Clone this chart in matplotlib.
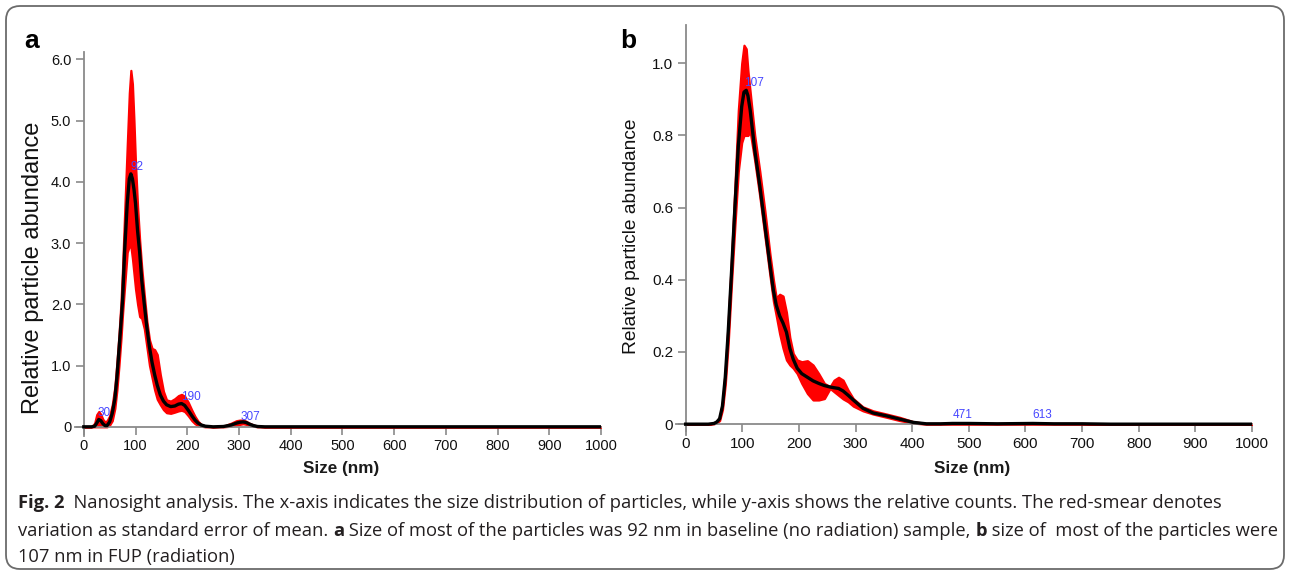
import matplotlib
matplotlib.use('Agg')
import matplotlib.pyplot as plt
from matplotlib import font_manager
from matplotlib.patches import FancyBboxPatch
from matplotlib.transforms import IdentityTransform

# ---------------- data ----------------
# Panel a: baseline (no radiation)
size_a = [0, 15, 21, 25, 29, 33, 37, 41, 45, 50, 55, 60, 64, 68, 72, 75, 79, 84, 88, 91,
          94, 97, 100, 104, 108, 112, 117, 122, 127, 132, 137, 142, 148, 154, 160, 168,
          176, 183, 189, 195, 202, 209, 215, 221, 227, 235, 250, 270, 285, 295, 302, 308,
          314, 320, 328, 336, 350, 1000]
mean_a = [0, 0, 0.01, 0.06, 0.12, 0.10, 0.05, 0.02, 0.02, 0.08, 0.22, 0.45, 0.80, 1.25,
          1.70, 2.07, 2.88, 3.65, 4.05, 4.13, 4.05, 3.88, 3.65, 3.20, 2.85, 2.40, 2.00,
          1.62, 1.30, 1.05, 0.85, 0.68, 0.52, 0.42, 0.36, 0.33, 0.34, 0.37, 0.38, 0.35,
          0.27, 0.18, 0.11, 0.06, 0.03, 0.01, 0, 0.005, 0.03, 0.06, 0.075, 0.08, 0.07,
          0.045, 0.02, 0.005, 0, 0]
upper_a = [0, 0, 0.06, 0.20, 0.25, 0.20, 0.12, 0.08, 0.10, 0.18, 0.36, 0.65, 1.05, 1.50,
           2.05, 2.60, 3.50, 4.60, 5.45, 5.82, 5.60, 5.00, 4.30, 3.60, 3.05, 2.60, 2.15,
           1.72, 1.42, 1.28, 1.26, 1.18, 0.85, 0.58, 0.44, 0.42, 0.46, 0.51, 0.53, 0.50,
           0.40, 0.27, 0.17, 0.09, 0.04, 0.015, 0, 0.01, 0.06, 0.10, 0.11, 0.11, 0.09,
           0.06, 0.03, 0.01, 0, 0]
lower_a = [0, 0, 0, 0, 0, 0, 0, 0, 0, 0.03, 0.10, 0.30, 0.60, 1.00, 1.45, 1.85, 2.30,
           2.85, 2.95, 2.95, 2.75, 2.50, 2.25, 2.00, 1.80, 1.77, 1.60, 1.30, 1.00, 0.80,
           0.60, 0.45, 0.36, 0.28, 0.23, 0.22, 0.24, 0.26, 0.27, 0.25, 0.18, 0.10, 0.05,
           0.02, 0.01, 0, 0, 0, 0.01, 0.03, 0.04, 0.05, 0.04, 0.03, 0.01, 0, 0, 0]
peaks_a = ['30', '92', '190', '307']
peak_x_a = [39, 102, 207, 323]
peak_y_a = [0.22, 4.25, 0.49, 0.16]

# Panel b: FUP (radiation)
size_b = [0, 40, 50, 55, 60, 65, 70, 75, 81, 87, 93, 99, 103, 107, 110, 114, 122, 131,
          140, 149, 155, 160, 166, 172, 178, 184, 190, 197, 205, 215, 225, 235, 245, 255,
          262, 270, 278, 287, 296, 313, 331, 355, 378, 402, 425, 450, 471, 500, 550, 613,
          650, 700, 750, 1000]
mean_b = [0, 0, 0.002, 0.006, 0.015, 0.05, 0.13, 0.25, 0.42, 0.60, 0.77, 0.88, 0.92,
          0.925, 0.91, 0.87, 0.76, 0.66, 0.55, 0.44, 0.37, 0.33, 0.30, 0.28, 0.255, 0.21,
          0.18, 0.155, 0.14, 0.13, 0.12, 0.113, 0.107, 0.103, 0.101, 0.099, 0.092, 0.08,
          0.067, 0.044, 0.031, 0.023, 0.014, 0.005, 0.001, 0.001, 0.002, 0.002, 0.001,
          0.002, 0.001, 0.001, 0, 0]
upper_b = [0, 0, 0.003, 0.008, 0.02, 0.06, 0.15, 0.28, 0.46, 0.66, 0.87, 1.00, 1.05,
           1.04, 0.98, 0.92, 0.80, 0.70, 0.59, 0.47, 0.40, 0.35, 0.36, 0.355, 0.31, 0.24,
           0.196, 0.178, 0.173, 0.176, 0.164, 0.14, 0.113, 0.104, 0.122, 0.13, 0.122,
           0.094, 0.071, 0.048, 0.037, 0.028, 0.019, 0.007, 0.002, 0.002, 0.003, 0.003,
           0.002, 0.003, 0.002, 0.002, 0, 0]
lower_b = [0, 0, 0.001, 0.004, 0.01, 0.04, 0.11, 0.22, 0.39, 0.55, 0.70, 0.78, 0.80,
           0.80, 0.80, 0.81, 0.73, 0.63, 0.52, 0.41, 0.34, 0.30, 0.25, 0.21, 0.178, 0.164,
           0.155, 0.14, 0.113, 0.085, 0.067, 0.067, 0.071, 0.099, 0.09, 0.08, 0.07, 0.062,
           0.05, 0.037, 0.028, 0.019, 0.01, 0.003, 0, 0, 0, 0, 0, 0, 0, 0, 0, 0]
peaks_b = ['107', '471', '613']
peak_x_b = [104, 489, 630]
peak_y_b = [0.945, 0.025, 0.025]

x_ticks = [0, 100, 200, 300, 400, 500, 600, 700, 800, 900, 1000]
y_ticks_a = [0, 1, 2, 3, 4, 5, 6]
y_ticklabels_a = ['0', '1.0', '2.0', '3.0', '4.0', '5.0', '6.0']
y_ticks_b = [0, 0.2, 0.4, 0.6, 0.8, 1.0]
y_ticklabels_b = ['0', '0.2', '0.4', '0.6', '0.8', '1.0']

caption_lines = [
    [("Fig. 2", True), ("  Nanosight analysis. The x-axis indicates the size distribution of particles, while y-axis shows the relative counts. The red-smear denotes", False)],
    [("variation as standard error of mean. ", False), ("a", True),
     (" Size of most of the particles was 92 nm in baseline (no radiation) sample, ", False),
     ("b", True), (" size of  most of the particles were", False)],
    [("107 nm in FUP (radiation)", False)],
]

# ---------------- fonts ----------------
available = {f.name for f in font_manager.fontManager.ttflist}
def pick(*names):
    for n in names:
        if n in available:
            return n
    return 'DejaVu Sans'

SANS = pick('Liberation Sans', 'Arial', 'DejaVu Sans')
CAP = pick('Open Sans', 'Noto Sans', 'Lato', 'DejaVu Sans')

W, H = 1290, 575
fig = plt.figure(figsize=(W / 100, H / 100), dpi=100)
fig.patch.set_facecolor('white')

def px_axes(x0, x1, ytop, ybot):
    return fig.add_axes([x0 / W, 1 - ybot / H, (x1 - x0) / W, (ybot - ytop) / H])

ax_a = px_axes(75, 601, 52, 436)
ax_b = px_axes(676, 1252, 25, 435)

SPINE = '#8a8a8a'

def style(ax, xlim, ylim, yt, ytl, fs):
    ax.set_xlim(*xlim)
    ax.set_ylim(*ylim)
    ax.set_facecolor('none')
    for s in ('top', 'right'):
        ax.spines[s].set_visible(False)
    ax.spines['left'].set_position(('data', 0))
    ax.spines['bottom'].set_position(('data', 0))
    for s in ('left', 'bottom'):
        ax.spines[s].set_color(SPINE)
        ax.spines[s].set_linewidth(1.3)
    ax.set_xticks(x_ticks)
    ax.set_xticklabels([str(v) for v in x_ticks], family=SANS, fontsize=fs)
    ax.set_yticks(yt)
    ax.set_yticklabels(ytl, family=SANS, fontsize=fs)
    ax.tick_params(axis='both', direction='out', length=6, width=1.2, color=SPINE,
                   labelcolor='#111111')
    ax.tick_params(axis='x', pad=3)
    ax.tick_params(axis='y', pad=3)

def draw(ax, x, m, lo, up):
    ax.fill_between(x, lo, up, color='#ff0000', lw=1.6, edgecolor='#ff0000', zorder=2)
    ax.plot(x, m, color='black', lw=2.4, zorder=3, solid_joinstyle='round')

draw(ax_a, size_a, mean_a, lower_a, upper_a)
draw(ax_b, size_b, mean_b, lower_b, upper_b)
style(ax_a, (-17, 1000), (-0.15, 6.12), y_ticks_a, y_ticklabels_a, 10.5)
style(ax_b, (-17, 1000), (-0.03, 1.106), y_ticks_b, y_ticklabels_b, 11)

BLUE = '#4646ff'
for t, x, y in zip(peaks_a, peak_x_a, peak_y_a):
    ax_a.text(x, y, t, color=BLUE, fontsize=8.5, family=SANS, ha='center', va='center', zorder=4)
for i, (t, x, y) in enumerate(zip(peaks_b, peak_x_b, peak_y_b)):
    ax_b.text(x, y, t, color=BLUE, fontsize=8.5, family=SANS,
              ha='left' if i == 0 else 'center', va='center', zorder=4)

def ftext(x, y, s, **kw):
    return fig.text(x / W, 1 - y / H, s, **kw)

# axis labels
ftext(33, 268, 'Relative particle abundance', rotation=90, family=SANS, fontsize=17,
      ha='center', va='center', color='#111111')
ftext(632, 236, 'Relative particle abundance', rotation=90, family=SANS, fontsize=13.8,
      ha='center', va='center', color='#111111')
ftext(341, 469, 'Size (nm)', family=SANS, fontsize=12.3, fontweight='bold',
      ha='center', va='center', color='#1a1a1a')
ftext(972, 469, 'Size (nm)', family=SANS, fontsize=12.3, fontweight='bold',
      ha='center', va='center', color='#1a1a1a')

# panel letters
ftext(32, 41, 'a', family=SANS, fontsize=19, fontweight='bold', ha='center', va='center')
ftext(628, 41, 'b', family=SANS, fontsize=19, fontweight='bold', ha='center', va='center')

# border
fig.add_artist(FancyBboxPatch((6, 6), 1278, 563,
                              boxstyle='round,pad=0,rounding_size=14',
                              transform=IdentityTransform(), facecolor='none',
                              edgecolor='#6b6b6b', lw=1.3, zorder=0))

# caption
renderer = fig.canvas.get_renderer()

def measure(txt, bold, size):
    def w(s):
        t = fig.text(0, 0, s, fontsize=size, family=CAP,
                     fontweight='bold' if bold else 'normal')
        bb = t.get_window_extent(renderer)
        t.remove()
        return bb.width
    return w('|' + txt + '|') - w('||')

base = 12.0
line2_w = sum(measure(s, b, base) for s, b in caption_lines[1])
cap_size = base * 1255.0 / line2_w

CAP_COLOR = '#231f20'
for (segs, yc) in zip(caption_lines, [503, 531, 557]):
    x = 18
    for s, b in segs:
        ftext(x, yc, s, fontsize=cap_size, family=CAP,
              fontweight='bold' if b else 'normal', color=CAP_COLOR,
              ha='left', va='center')
        x += measure(s, b, cap_size)

fig.savefig('out.png', dpi=100, facecolor='white')
